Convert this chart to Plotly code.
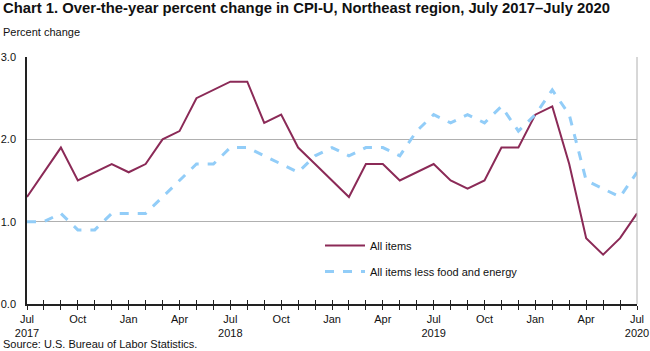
import plotly.graph_objects as go

months = list(range(37))  # Jul 2017 .. Jul 2020
all_items = [1.3, 1.6, 1.9, 1.5, 1.6, 1.7, 1.6, 1.7, 2.0, 2.1, 2.5, 2.6, 2.7,
             2.7, 2.2, 2.3, 1.9, 1.7, 1.5, 1.3, 1.7, 1.7, 1.5, 1.6, 1.7,
             1.5, 1.4, 1.5, 1.9, 1.9, 2.3, 2.4, 1.7, 0.8, 0.6, 0.8, 1.1]
core = [1.0, 1.0, 1.1, 0.9, 0.9, 1.1, 1.1, 1.1, 1.3, 1.5, 1.7, 1.7, 1.9,
        1.9, 1.8, 1.7, 1.6, 1.8, 1.9, 1.8, 1.9, 1.9, 1.8, 2.1, 2.3,
        2.2, 2.3, 2.2, 2.4, 2.1, 2.3, 2.6, 2.3, 1.5, 1.4, 1.3, 1.6]
tick_pos = [0, 3, 6, 9, 12, 15, 18, 21, 24, 27, 30, 33, 36]
tick_text = ["Jul<br>2017", "Oct", "Jan", "Apr", "Jul<br>2018", "Oct", "Jan", "Apr",
             "Jul<br>2019", "Oct", "Jan", "Apr", "Jul<br>2020"]
y_ticks = [0, 1, 2, 3]
y_text = ["0.0", "1.0", "2.0", "3.0"]

FONT = "Liberation Sans, Arial, sans-serif"
W, H = 650, 351
ML, MR, MT, MB = 27, 13, 57, 47
PW, PH = W - ML - MR, H - MT - MB


def px(x):
    return (x - ML) / PW


def py(y):
    return (H - MB - y) / PH


fig = go.Figure()
fig.add_trace(go.Scatter(x=months, y=all_items, mode="lines", name="All items", legendgroup="a",
                         line=dict(color="#8b2a57", width=2)))
fig.add_trace(go.Scatter(x=months, y=core, mode="lines", name="All items less food and energy",
                         legendgroup="b", line=dict(color="#92cdf8", width=3, dash="dash")))

fig.update_layout(
    width=W, height=H,
    margin=dict(l=ML, r=MR, t=MT, b=MB, autoexpand=False),
    paper_bgcolor="white", plot_bgcolor="white",
    font=dict(family=FONT, size=11, color="#222"),
    title=dict(text="<b>Chart 1. Over-the-year percent change in CPI-U, Northeast region, July 2017–July 2020</b>",
               x=3 / W, xanchor="left", y=1 - 8 / H, yanchor="middle", pad=dict(l=0, t=0, b=0, r=0),
               font=dict(size=14.8, color="#111")),
    showlegend=True,
    legend=dict(x=px(320), y=py(231), xanchor="left", yanchor="top",
                bgcolor="rgba(0,0,0,0)", font=dict(size=11, color="#111"),
                tracegroupgap=7, itemwidth=40),
    xaxis=dict(range=[0, 36], tickmode="array", tickvals=tick_pos, ticktext=tick_text,
               showgrid=False, showline=True, linecolor="#222", linewidth=1.5,
               ticks="outside", ticklen=4, tickcolor="#222", automargin=False,
               minor=dict(dtick=1, tick0=0, ticks="outside", ticklen=4, tickcolor="#222"),
               zeroline=False, tickfont=dict(size=11, color="#111")),
    xaxis2=dict(range=[0, 36], overlaying="x", side="bottom", tickmode="linear", tick0=0, dtick=1,
                ticks="inside", ticklen=4, tickcolor="#222", showticklabels=False, automargin=False,
                showgrid=False, showline=False, zeroline=False),
    yaxis=dict(range=[0, 3], tickmode="array", tickvals=y_ticks, ticktext=y_text,
               showgrid=True, gridcolor="#b0b0b0", gridwidth=1, automargin=False,
               showline=True, linecolor="#222", linewidth=1.5, zeroline=False,
               ticks="", ticklabelstandoff=7, tickfont=dict(size=11, color="#111")),
    annotations=[
        dict(text="Percent change", xref="paper", yref="paper", x=px(2), y=py(32),
             xanchor="left", yanchor="middle", showarrow=False, borderpad=0,
             font=dict(size=11, color="#111")),
        dict(text="Source: U.S. Bureau of Labor Statistics.", xref="paper", yref="paper",
             x=px(2), y=py(344), xanchor="left", yanchor="middle", showarrow=False, borderpad=0,
             font=dict(size=11, color="#111")),
    ],
    shapes=[dict(type="line", xref="paper", yref="paper", x0=1, x1=1, y0=0, y1=1,
                 line=dict(color="#b0b0b0", width=1))],
)
# invisible trace carrying xaxis2 (inside half of the crossing ticks)
fig.add_trace(go.Scatter(x=[0, 36], y=[0, 0], xaxis="x2", mode="lines",
                         line=dict(width=0), showlegend=False, hoverinfo="skip"))

fig.write_html("out.html")
